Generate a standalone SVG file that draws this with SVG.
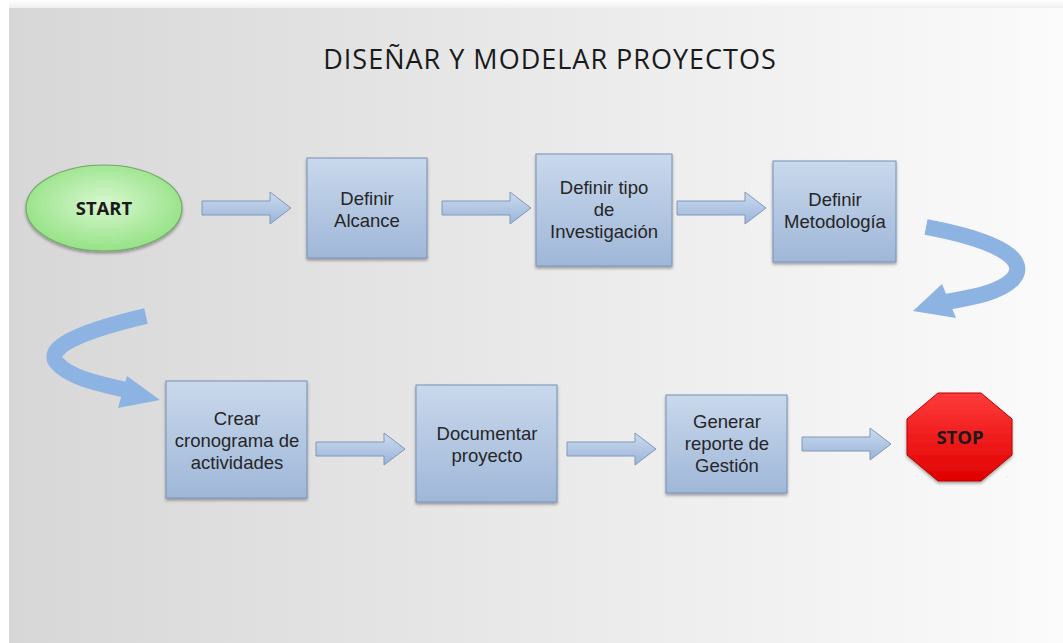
<svg xmlns="http://www.w3.org/2000/svg" width="1063" height="643" viewBox="0 0 1063 643">
  <defs>
    <linearGradient id="bg" x1="0" y1="0" x2="1" y2="0">
      <stop offset="0" stop-color="#d7d7d7"/>
      <stop offset="0.5" stop-color="#e9e9e9"/>
      <stop offset="1" stop-color="#fbfbfb"/>
    </linearGradient>
    <linearGradient id="topShade" x1="0" y1="0" x2="0" y2="1">
      <stop offset="0" stop-color="#ffffff"/>
      <stop offset="1" stop-color="#ececec"/>
    </linearGradient>
    <linearGradient id="boxFill" x1="0" y1="0" x2="0" y2="1">
      <stop offset="0" stop-color="#c9d8ec"/>
      <stop offset="1" stop-color="#9fb7d8"/>
    </linearGradient>
    <linearGradient id="arrowFill" x1="0" y1="0" x2="0" y2="1">
      <stop offset="0" stop-color="#cbdbef"/>
      <stop offset="1" stop-color="#9ab4d8"/>
    </linearGradient>
    <radialGradient id="startFill" cx="0.5" cy="0.45" r="0.6">
      <stop offset="0" stop-color="#d8f7cf"/>
      <stop offset="1" stop-color="#8fe07f"/>
    </radialGradient>
    <linearGradient id="stopFill" x1="0" y1="0" x2="0" y2="1">
      <stop offset="0" stop-color="#ff3b3b"/>
      <stop offset="1" stop-color="#e00000"/>
    </linearGradient>
    <filter id="shadow" x="-10%" y="-10%" width="125%" height="130%">
      <feDropShadow dx="0" dy="2" stdDeviation="1.6" flood-color="#000" flood-opacity="0.35"/>
    </filter>
    <path id="blockArrow" d="M0,-7 H68 V-16 L89,0 L68,16 V7 H0 Z"/>
  </defs>
  <style>
    .box { fill: url(#boxFill); stroke: #7690b6; stroke-width: 1; filter: url(#shadow); }
    .flow { fill: url(#arrowFill); stroke: #8097b8; stroke-width: 1; }
    .bend { fill: none; stroke: #8db3e2; stroke-width: 16; }
    .bendHead { fill: #8db3e2; }
    .lbl { font-family: "Liberation Sans", "Open Sans", sans-serif; font-size: 18.5px; fill: #262626; text-anchor: middle; }
    .bold { font-family: "Open Sans", "Liberation Sans", sans-serif; font-weight: bold; font-size: 18.5px; fill: #1a1a1a; text-anchor: middle; }
    .title { font-family: "Open Sans", "Liberation Sans", sans-serif; font-size: 27px; letter-spacing: 1px; fill: #1a1a1a; text-anchor: middle; }
  </style>

  <!-- page background -->
  <rect x="0" y="0" width="1063" height="643" fill="#ffffff"/>
  <rect x="9" y="0" width="1054" height="10" fill="url(#topShade)"/>
  <rect x="9" y="8" width="1054" height="635" fill="url(#bg)"/>

  <text class="title" x="550" y="69">DISEÑAR Y MODELAR PROYECTOS</text>

  <!-- connectors -->
  <g id="connectors">
    <use href="#blockArrow" class="flow" x="202" y="208"/>
    <use href="#blockArrow" class="flow" x="442" y="208"/>
    <use href="#blockArrow" class="flow" x="677" y="208"/>
    <path class="bend" d="M926,227 C985,238 1032,256 1013,279 C1001,292 975,297 946,302"/>
    <polygon class="bendHead" points="913,311 942,284 956,318"/>
    <path class="bend" d="M146,316 C95,328 42,345 57,363 C70,378 100,384 126,390"/>
    <polygon class="bendHead" points="160,400 127,376 118,408"/>
    <use href="#blockArrow" class="flow" x="316" y="449"/>
    <use href="#blockArrow" class="flow" x="567" y="449"/>
    <use href="#blockArrow" class="flow" x="802" y="444"/>
  </g>

  <g id="start">
    <ellipse cx="104" cy="208" rx="78" ry="43" fill="url(#startFill)" stroke="#73a86a" stroke-width="1.2" filter="url(#shadow)"/>
    <text class="bold" x="104" y="215">START</text>
  </g>

  <g id="definir-alcance">
    <rect class="box" x="307" y="158" width="120" height="100"/>
    <text class="lbl" x="367" y="205">Definir</text>
    <text class="lbl" x="367" y="227">Alcance</text>
  </g>

  <g id="definir-tipo">
    <rect class="box" x="536" y="154" width="136" height="112"/>
    <text class="lbl" x="604" y="194">Definir tipo</text>
    <text class="lbl" x="604" y="216">de</text>
    <text class="lbl" x="604" y="238">Investigación</text>
  </g>

  <g id="definir-metodologia">
    <rect class="box" x="773" y="161" width="123" height="101"/>
    <text class="lbl" x="835" y="206">Definir</text>
    <text class="lbl" x="835" y="228">Metodología</text>
  </g>

  <g id="crear-cronograma">
    <rect class="box" x="166" y="381" width="141" height="117"/>
    <text class="lbl" x="237" y="425">Crear</text>
    <text class="lbl" x="237" y="447">cronograma de</text>
    <text class="lbl" x="237" y="469">actividades</text>
  </g>

  <g id="documentar">
    <rect class="box" x="416" y="385" width="141" height="117"/>
    <text class="lbl" x="487" y="440">Documentar</text>
    <text class="lbl" x="487" y="462">proyecto</text>
  </g>

  <g id="generar-reporte">
    <rect class="box" x="666" y="395" width="121" height="98"/>
    <text class="lbl" x="727" y="428">Generar</text>
    <text class="lbl" x="727" y="450">reporte de</text>
    <text class="lbl" x="727" y="472">Gestión</text>
  </g>

  <g id="stop">
    <polygon points="938,393 981,393 1012,419 1012,455 981,481 938,481 907,455 907,419" fill="url(#stopFill)" stroke="#b80000" stroke-width="1" filter="url(#shadow)"/>
    <text class="bold" x="960" y="444">STOP</text>
  </g>
</svg>
